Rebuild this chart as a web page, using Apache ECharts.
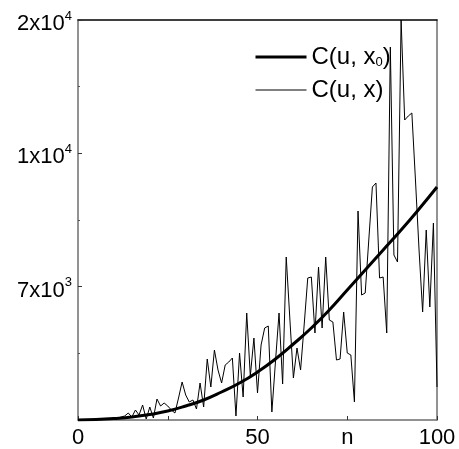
<!DOCTYPE html>
<html>
<head>
<meta charset="utf-8">
<script src="https://cdn.jsdelivr.net/npm/echarts@6/dist/echarts.min.js"></script>
<style>html,body{margin:0;padding:0;background:#fff}#c{width:459px;height:449px}</style>
</head>
<body>
<div id="c"></div>
<script>
// smooth curve C(u, x0): n and value
var curveN = [0,5,10,15,20,25,30,35,40,45,50,55,60,65,70,75,80,85,90,95,100];
var curveVals = [0,25,75,150,275,450,700,1000,1400,1850,2400,3050,3800,4600,5500,6500,7500,8500,9500,10550,11650];
// noisy curve C(u, x): value for n = 0..100
var noisyVals = [0,0,0,0,25,25,50,50,75,50,
  100,75,150,200,350,150,500,250,750,50,
  650,100,1050,700,850,700,500,350,1100,1900,
  1250,900,1000,550,1850,650,3050,1650,3500,2500,
  1850,2750,2900,3100,200,3350,1150,5350,2200,4100,
  1350,3750,4600,4700,400,2900,5350,1800,8150,5100,
  2100,3600,2500,4750,7100,7150,4350,7650,4600,8150,
  5000,4900,3000,3050,5400,3350,3250,900,10450,6250,
  6350,9000,11650,11850,7100,7150,4350,18650,8250,7900,
  20000,15000,15200,15350,12000,8500,5400,9500,5650,9850,
  1650];
var xTickLabels = {0:'0', 50:'50', 75:'n', 100:'100'};
var yTickLabels = {2:'{a|7x10}{p|3}', 4:'{a|1x10}{p|4}', 6:'{a|2x10}{p|4}'};
var seriesNames = ['x0', 'x'];

var curveData = curveN.map(function(n,i){return [n, curveVals[i]];});
var noisyData = noisyVals.map(function(v,i){return [i, v];});
var FONT = 'Liberation Sans, Arial, sans-serif';
var chart = echarts.init(document.getElementById('c'), null, {renderer:'canvas'});
chart.setOption({
  animation: false,
  backgroundColor: '#fff',
  grid: {left: 78, right: 22, top: 20, bottom: 28, containLabel: false},
  legend: {
    orient: 'vertical', left: 249, top: 40, itemWidth: 51, itemHeight: 20, itemGap: 9,
    itemStyle: {opacity: 0, borderWidth: 0},
    data: [
      {name: seriesNames[0], lineStyle: {width: 3, color: '#000'}},
      {name: seriesNames[1], lineStyle: {width: 1, color: '#000'}}
    ],
    formatter: function(name){ return name === 'x0' ? '{a|C(u, x}{s|0}{a|)}' : '{a|C(u, x)}'; },
    textStyle: {
      color: '#000', fontFamily: FONT, fontSize: 24,
      rich: {
        a: {fontSize: 24, fontFamily: FONT, color: '#000'},
        s: {fontSize: 13, fontFamily: FONT, color: '#000', padding: [10,0,0,0]}
      }
    }
  },
  xAxis: [{
    type: 'value', min: 0, max: 100, interval: 25, position: 'bottom',
    axisLine: {show: true, onZero: false, lineStyle: {color: '#6e6e6e', width: 1.5}},
    axisTick: {show: true, inside: true, length: 4, lineStyle: {color: '#333'}},
    splitLine: {show: false},
    axisLabel: {margin: 7, color: '#000', fontFamily: FONT, fontSize: 22,
      formatter: function(v){ return xTickLabels[v] !== undefined ? xTickLabels[v] : ''; }}
  }, {
    type: 'value', min: 0, max: 100, position: 'top',
    axisLine: {show: true, onZero: false, lineStyle: {color: '#000', width: 1.5}},
    axisTick: {show: false}, axisLabel: {show: false}, splitLine: {show: false}
  }],
  yAxis: [{
    type: 'value', min: 0, max: 20000, interval: 20000/3, position: 'left',
    axisLine: {show: true, onZero: false, lineStyle: {color: '#6e6e6e', width: 1.5}},
    axisTick: {show: true, inside: true, length: 4, lineStyle: {color: '#333'}},
    minorTick: {show: true, splitNumber: 2, length: 2, lineStyle: {color: '#555'}},
    splitLine: {show: false},
    axisLabel: {margin: 6, color: '#000', fontFamily: FONT, fontSize: 22,
      formatter: function(v){ var k = Math.round(v/(20000/6)); return yTickLabels[k] || ''; },
      rich: {
        a: {fontSize: 22, fontFamily: FONT, color: '#000', padding: [8,0,0,0]},
        p: {fontSize: 13, fontFamily: FONT, color: '#000', padding: [0,0,8,0]}
      }}
  }, {
    type: 'value', min: 0, max: 20000, position: 'right',
    axisLine: {show: true, onZero: false, lineStyle: {color: '#6e6e6e', width: 1.5}},
    axisTick: {show: false}, axisLabel: {show: false}, splitLine: {show: false}
  }],
  series: [{
    name: 'x0', type: 'line', data: curveData, smooth: true, showSymbol: false, symbol: 'none',
    lineStyle: {color: '#000', width: 3}, itemStyle: {color: '#000'}, z: 3
  }, {
    name: 'x', type: 'line', data: noisyData, showSymbol: false, symbol: 'none',
    lineStyle: {color: '#000', width: 1}, itemStyle: {color: '#000'}, z: 2
  }]
});
</script>
</body>
</html>
